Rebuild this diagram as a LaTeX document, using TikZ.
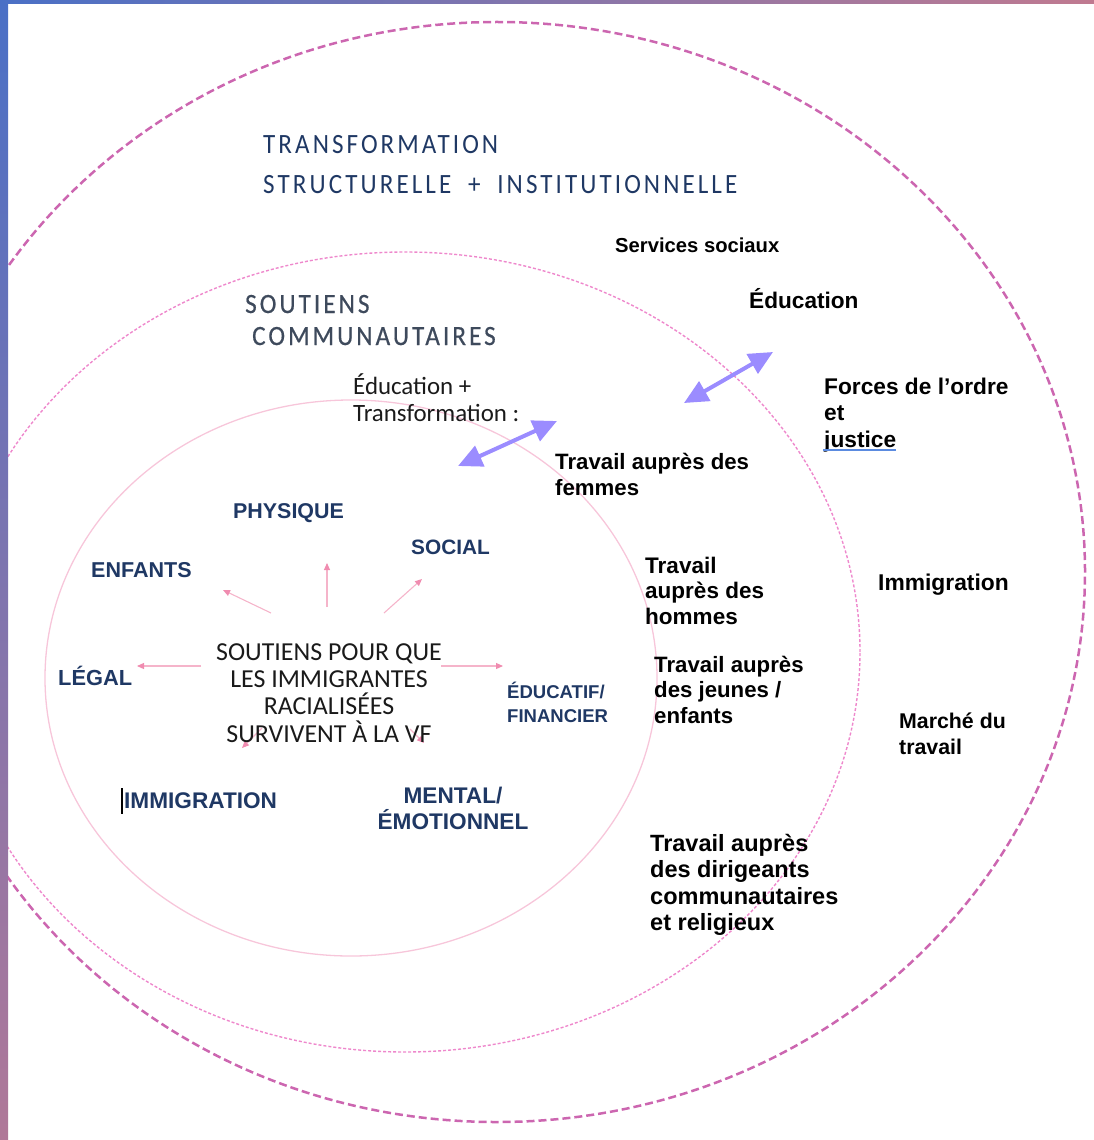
\documentclass[tikz,border=0pt]{standalone}
\usepackage{fontspec}
\setmainfont{Liberation Sans}
\newfontfamily\calfont{Carlito}
\newfontfamily\ttlfont[FakeStretch=0.9,LetterSpace=11]{Carlito}
\newfontfamily\subfont[FakeStretch=0.9,LetterSpace=11,FakeBold=0.6]{Carlito}
\usetikzlibrary{arrows.meta}
\newcommand\mlines[2]{\vtop{\let\\\cr\lineskiplimit=-\maxdimen\lineskip=0pt\halign{#1##\hfil\cr#2\crcr}}}
\definecolor{navy}{HTML}{1F3864}
\definecolor{slate}{HTML}{3E4A5C}
\definecolor{outerc}{HTML}{CC66B0}
\definecolor{midc}{HTML}{EE88CC}
\definecolor{innerc}{HTML}{F7C6DA}
\definecolor{spokec}{HTML}{F5B4CA}
\definecolor{spokeh}{HTML}{F08CB0}
\definecolor{arrc}{HTML}{9B8CFF}
\definecolor{frameA}{HTML}{4A70C6}
\definecolor{frameB}{HTML}{B07898}
\definecolor{frameC}{HTML}{C07A90}
\definecolor{ulc}{HTML}{5B8BE0}
\definecolor{ink}{HTML}{1A1A1A}
\begin{document}
\begin{tikzpicture}[x=1bp,y=-1bp,
  txt/.style={anchor=base west,inner sep=0pt},
  blk/.style={txt,font=\fontsize{#1}{26.7}\selectfont\bfseries,text=black},
  nav/.style={txt,font=\fontsize{#1}{27}\selectfont\bfseries,text=navy},
  ttl/.style={txt,font=\fontsize{28}{40}\selectfont\ttlfont,text=navy},
  sub/.style={txt,font=\fontsize{28}{40}\selectfont\subfont,text=slate},
  spoke/.style={draw=spokec,line width=1.1bp,-{Triangle[length=7bp,width=6bp,color=spokeh]}},
  dbl/.style={draw=arrc,line width=4bp,{Triangle[length=24bp,width=22bp]}-{Triangle[length=24bp,width=22bp]}}
]
\useasboundingbox (0,0) rectangle (1094,1140);
\begin{scope}
\clip (0,0) rectangle (1094,1140);
\draw[outerc,line width=2.5bp,dash pattern=on 8bp off 4bp] (497,572) ellipse [x radius=588bp,y radius=550bp];
\draw[midc,line width=1.4bp,dash pattern=on 3bp off 2bp] (405,652) ellipse [x radius=455bp,y radius=400bp];
\draw[innerc,line width=1.3bp] (351,678) ellipse [x radius=306bp,y radius=278bp];
\end{scope}
\shade[top color=frameA,bottom color=frameB] (0,0) rectangle (8,1140);
\shade[left color=frameA,right color=frameC] (0,0) rectangle (1094,3);

% titles
\node[ttl] (t1) at (263,153) {TRANSFORMATION};
\node[ttl] (t2) at (263,193) {STRUCTURELLE\hspace{8bp} +\hspace{8bp} INSTITUTIONNELLE};
\node[sub] (s1) at (245,313) {SOUTIENS};
\node[sub] (s2) at (252,345) {COMMUNAUTAIRES};
\node[txt,font=\fontsize{25}{28}\selectfont\calfont,text=ink] (et) at (353,394) {\mlines{}{Éducation +\\Transformation :}};

% outer ring labels
\node[blk=20.3] (ss) at (615,252) {Services sociaux};
\node[blk=22.7] (edu) at (749,308) {Éducation};
\node[blk=22.8] (force) at (824,394) {\mlines{}{Forces de l’ordre\\et\\justice}};
\draw[ulc,line width=1.6bp] (823,450) -- (896,450);
\node[blk=22.9] (imm2) at (878,590) {Immigration};
\node[txt,font=\fontsize{21.4}{27}\selectfont\bfseries] (marche) at (899,728) {\mlines{}{Marché du\\travail}};

% middle ring labels
\node[blk=22.3] (fem) at (555,469) {\mlines{}{Travail auprès des\\femmes}};
\node[txt,font=\fontsize{22.6}{26}\selectfont\bfseries] (hom) at (645,573) {\mlines{}{Travail\\auprès des\\hommes}};
\node[txt,font=\fontsize{22.3}{25.7}\selectfont\bfseries] (jeu) at (654,672) {\mlines{}{Travail auprès\\des jeunes /\\enfants}};
\node[blk=23.6] (dir) at (650,851) {\mlines{}{Travail auprès\\des dirigeants\\communautaires\\et religieux}};

% inner labels
\node[nav=21.5] (phy) at (233,518) {PHYSIQUE};
\node[nav=20.9] (soc) at (411,554) {SOCIAL};
\node[nav=21.6] (enf) at (91,577) {ENFANTS};
\node[nav=21.9] (leg) at (58,685) {LÉGAL};
\node[txt,font=\fontsize{18.6}{25}\selectfont\bfseries,text=navy] (edf) at (507,698) {\mlines{}{ÉDUCATIF/\\FINANCIER}};
\node[nav=22.7] (immi) at (124,808) {IMMIGRATION};
\draw[black,line width=1.2bp] (122,788) -- (122,814);
\node[anchor=base,inner sep=0pt,font=\fontsize{22.7}{27}\selectfont\bfseries,text=navy] (men) at (453,803) {\mlines{\hfil}{MENTAL/\\ÉMOTIONNEL}};

% spokes
\coordinate (c1) at (271,613); \coordinate (e1) at (223,590);
\coordinate (c2) at (327,607); \coordinate (e2) at (327,563);
\coordinate (c3) at (384,613); \coordinate (e3) at (422,579);
\coordinate (c4) at (201,666); \coordinate (e4) at (137,666);
\coordinate (c5) at (441,666); \coordinate (e5) at (503,666);
\coordinate (c6) at (262,728); \coordinate (e6) at (242,748);
\coordinate (c7) at (410,729); \coordinate (e7) at (424,743);
\foreach \i in {1,...,7} {\draw[spoke] (c\i) -- (e\i);}

\node[anchor=base,inner sep=0pt,font=\fontsize{26}{27.5}\selectfont\calfont,text=ink] (core) at (329,660) {\mlines{\hfil}{SOUTIENS POUR QUE\\LES IMMIGRANTES\\RACIALISÉES\\SURVIVENT À LA VF}};

% double arrows
\coordinate (a1) at (458,466); \coordinate (b1) at (557,421);
\coordinate (a2) at (684,403); \coordinate (b2) at (773,352);
\draw[dbl] (a1) -- (b1);
\draw[dbl] (a2) -- (b2);
\end{tikzpicture}
\end{document}
